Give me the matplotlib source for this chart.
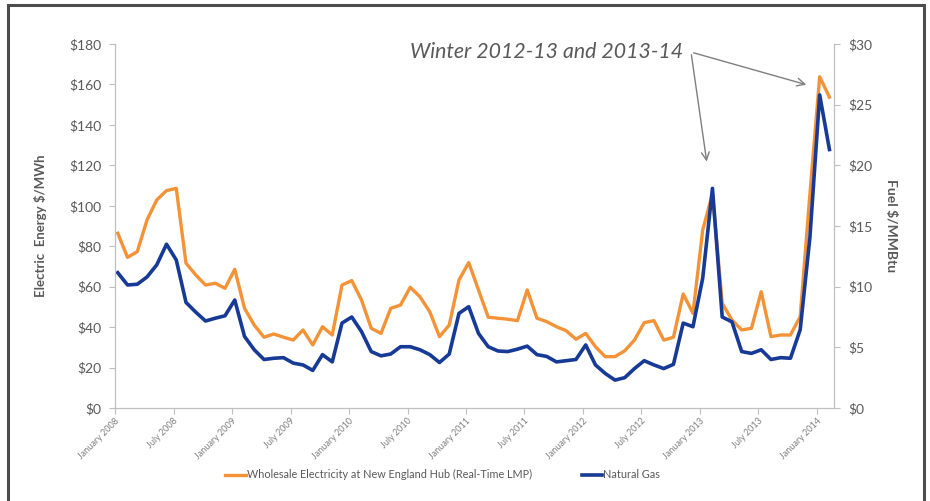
import numpy as np
import matplotlib
matplotlib.use("Agg")
import matplotlib.pyplot as plt
from matplotlib.patches import Rectangle

plt.rcParams["font.family"] = ["Lato", "DejaVu Sans"]

# monthly averages, January 2008 - February 2014
electricity = [
    86.4, 74.5, 77.3, 93.0, 102.9, 107.5, 108.6, 71.6, 65.8, 60.8, 61.7, 59.2,
    68.6, 49.3, 41.0, 35.0, 36.6, 35.0, 33.6, 38.6, 31.2, 40.2, 36.1, 60.8,
    63.0, 53.4, 39.4, 36.9, 49.3, 50.9, 59.7, 55.0, 47.6, 35.3, 41.0, 63.3,
    71.9, 58.4, 44.9, 44.4, 43.9, 43.2, 58.4, 44.4, 42.7, 40.2, 38.2, 34.0,
    36.9, 30.3, 25.4, 25.4, 28.3, 33.6, 42.2, 43.2, 33.6, 35.0, 56.4, 46.8,
    88.0, 106.0, 51.8, 43.5, 38.6, 39.4, 57.5, 35.3, 36.1, 36.1, 45.2, 106.0,
    163.8, 153.7,
]
natural_gas = [
    11.15, 10.14, 10.2, 10.8, 11.8, 13.5, 12.2, 8.7, 7.9, 7.17, 7.4, 7.6,
    8.9, 5.9, 4.8, 4.0, 4.1, 4.15, 3.7, 3.55, 3.1, 4.4, 3.8, 7.0,
    7.5, 6.3, 4.65, 4.3, 4.45, 5.05, 5.05, 4.8, 4.4, 3.75, 4.45, 7.8,
    8.35, 6.15, 5.05, 4.7, 4.65, 4.85, 5.1, 4.4, 4.25, 3.8, 3.9, 4.0,
    5.2, 3.55, 2.85, 2.3, 2.5, 3.25, 3.9, 3.55, 3.25, 3.6, 7.0, 6.7,
    10.7, 18.1, 7.5, 7.1, 4.65, 4.5, 4.8, 4.0, 4.15, 4.1, 6.45, 14.1,
    25.8, 21.3,
]
tick_labels = [
    "January 2008", "July 2008", "January 2009", "July 2009", "January 2010",
    "July 2010", "January 2011", "July 2011", "January 2012", "July 2012",
    "January 2013", "July 2013", "January 2014",
]
left_ticks = [0, 20, 40, 60, 80, 100, 120, 140, 160, 180]
right_ticks = [0, 5, 10, 15, 20, 25, 30]

ORANGE = "#F39237"
BLUE = "#173A96"
GREY = "#595959"
AXIS = "#BFBFBF"

months = np.arange(len(electricity))

fig = plt.figure(figsize=(9.3, 5.01), dpi=100)
ax = fig.add_axes([0.1237, 0.1856, 0.7731, 0.7266])
ax2 = ax.twinx()

ax.plot(months, electricity, color=ORANGE, lw=2.4, solid_joinstyle="round")
ax2.plot(months, natural_gas, color=BLUE, lw=2.6, solid_joinstyle="round")

ax.set_xlim(-0.28, 73.47)
ax.set_ylim(0, 180)
ax2.set_ylim(0, 30)

ax.set_xticks(np.arange(0, 73, 6) - 0.28)
ax.set_xticklabels(tick_labels, rotation=45, ha="right", rotation_mode="anchor",
                   fontsize=6.5, color="#7F7F7F")
ax.set_yticks(left_ticks)
ax.set_yticklabels([f"${v}" for v in left_ticks], fontsize=10, color=GREY)
ax2.set_yticks(right_ticks)
ax2.set_yticklabels([f"${v}" for v in right_ticks], fontsize=10, color=GREY)

for a in (ax, ax2):
    a.spines["top"].set_visible(False)
    for s in ("left", "right", "bottom"):
        a.spines[s].set_color(AXIS)
    a.tick_params(colors=AXIS, length=4, width=0.8)
    a.tick_params(axis="both", labelcolor=GREY)
ax.tick_params(axis="x", labelcolor="#7F7F7F", pad=2)
ax.tick_params(axis="y", pad=6)
ax2.tick_params(axis="y", pad=6)

ax.set_ylabel("Electric  Energy $/MWh", fontsize=9.5, fontweight="bold",
              color=GREY, labelpad=16)
ax2.set_ylabel("Fuel $/MMBtu", fontsize=10, fontweight="bold", color=GREY,
               rotation=270, labelpad=18)

# callout for the two winter price spikes
ax.text(44.0, 176.0, "Winter 2012-13 and 2013-14", fontsize=15.3, style="italic",
        color=GREY, ha="center", va="center")
arrow = dict(arrowstyle="->", color="#7F7F7F", lw=1.0, mutation_scale=14)
ax.annotate("", xy=(60.45, 120.5), xytext=(58.8, 176.0), arrowprops=arrow,
            annotation_clip=False)
ax.annotate("", xy=(70.9, 159.5), xytext=(58.8, 176.0), arrowprops=arrow,
            annotation_clip=False)

handles = [
    plt.Line2D([], [], color=ORANGE, lw=2.4),
    plt.Line2D([], [], color=BLUE, lw=2.6),
]
fig.legend(handles,
           ["Wholesale Electricity at New England Hub (Real-Time LMP)", "Natural Gas"],
           loc="center", bbox_to_anchor=(0.476, 0.052), ncol=2, frameon=False,
           fontsize=7.8, handlelength=1.9, handletextpad=0.1, columnspacing=4.6,
           labelcolor=GREY)

# outer frame of the panel
fig.patches.append(Rectangle((8 / 930, -0.05), 916 / 930, 1 - 5 / 501 + 0.05,
                             transform=fig.transFigure, fill=False,
                             edgecolor="#4D4D4D", lw=2.2))

fig.savefig("out.png", dpi=100, facecolor="white")
